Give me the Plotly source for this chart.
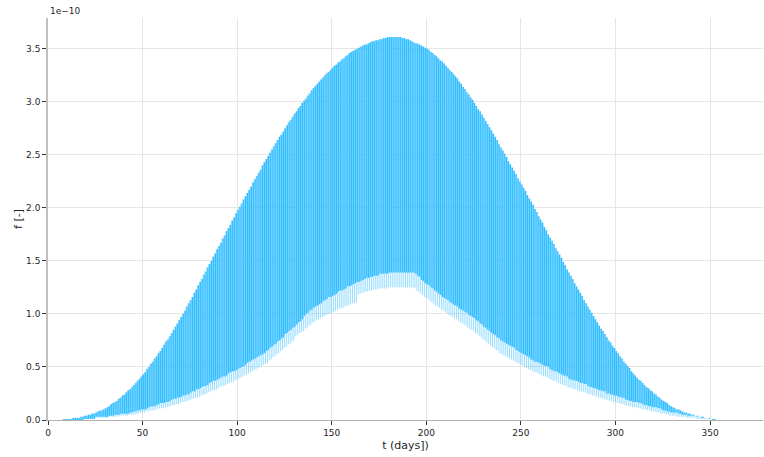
import plotly.graph_objects as go

# Daily readings of the signal, in units of 1e-10, for days 0..360.
day = list(range(0, 361))

# daily maximum
f_max = [
    0.00, 0.00, 0.00, 0.00, 0.00, 0.00, 0.00, 0.00, 0.01, 0.01,
    0.01, 0.01, 0.01, 0.02, 0.02, 0.02, 0.02, 0.03, 0.03, 0.04,
    0.04, 0.05, 0.05, 0.06, 0.06, 0.07, 0.08, 0.09, 0.09, 0.10,
    0.11, 0.12, 0.13, 0.15, 0.16, 0.17, 0.18, 0.20, 0.21, 0.23,
    0.24, 0.26, 0.28, 0.29, 0.31, 0.33, 0.35, 0.37, 0.39, 0.41,
    0.43, 0.45, 0.48, 0.50, 0.53, 0.55, 0.58, 0.60, 0.63, 0.65,
    0.68, 0.71, 0.74, 0.76, 0.79, 0.82, 0.85, 0.88, 0.91, 0.94,
    0.97, 1.00, 1.03, 1.07, 1.10, 1.13, 1.16, 1.20, 1.23, 1.27,
    1.30, 1.33, 1.37, 1.40, 1.44, 1.47, 1.50, 1.54, 1.57, 1.61,
    1.64, 1.67, 1.71, 1.74, 1.78, 1.81, 1.84, 1.88, 1.91, 1.95,
    1.98, 2.01, 2.04, 2.08, 2.11, 2.14, 2.17, 2.20, 2.24, 2.27,
    2.30, 2.33, 2.36, 2.40, 2.43, 2.46, 2.49, 2.52, 2.55, 2.58,
    2.61, 2.64, 2.67, 2.69, 2.72, 2.75, 2.78, 2.81, 2.83, 2.86,
    2.89, 2.91, 2.94, 2.96, 2.99, 3.01, 3.03, 3.06, 3.08, 3.11,
    3.13, 3.15, 3.17, 3.19, 3.21, 3.23, 3.25, 3.27, 3.28, 3.30,
    3.32, 3.34, 3.35, 3.37, 3.38, 3.40, 3.41, 3.43, 3.44, 3.46,
    3.47, 3.48, 3.49, 3.50, 3.51, 3.52, 3.53, 3.54, 3.54, 3.55,
    3.56, 3.57, 3.57, 3.58, 3.58, 3.59, 3.59, 3.60, 3.60, 3.61,
    3.61, 3.61, 3.61, 3.61, 3.61, 3.61, 3.61, 3.60, 3.60, 3.59,
    3.59, 3.58, 3.57, 3.56, 3.55, 3.55, 3.54, 3.53, 3.52, 3.51,
    3.50, 3.49, 3.47, 3.46, 3.44, 3.43, 3.41, 3.39, 3.38, 3.36,
    3.34, 3.32, 3.30, 3.28, 3.26, 3.24, 3.22, 3.19, 3.17, 3.14,
    3.12, 3.09, 3.07, 3.04, 3.02, 2.99, 2.96, 2.93, 2.91, 2.88,
    2.85, 2.82, 2.79, 2.76, 2.73, 2.70, 2.67, 2.64, 2.60, 2.57,
    2.54, 2.51, 2.48, 2.44, 2.41, 2.38, 2.35, 2.32, 2.28, 2.25,
    2.22, 2.19, 2.16, 2.12, 2.09, 2.06, 2.03, 1.99, 1.96, 1.92,
    1.89, 1.86, 1.82, 1.79, 1.75, 1.72, 1.69, 1.66, 1.62, 1.59,
    1.56, 1.53, 1.49, 1.46, 1.42, 1.39, 1.36, 1.33, 1.29, 1.26,
    1.23, 1.20, 1.17, 1.13, 1.10, 1.07, 1.04, 1.01, 0.98, 0.95,
    0.92, 0.89, 0.86, 0.84, 0.81, 0.78, 0.75, 0.73, 0.70, 0.68,
    0.65, 0.63, 0.60, 0.58, 0.55, 0.53, 0.51, 0.49, 0.46, 0.44,
    0.42, 0.40, 0.38, 0.37, 0.35, 0.33, 0.31, 0.30, 0.28, 0.27,
    0.25, 0.24, 0.22, 0.21, 0.19, 0.18, 0.17, 0.16, 0.14, 0.13,
    0.12, 0.11, 0.10, 0.10, 0.09, 0.08, 0.07, 0.07, 0.06, 0.06,
    0.05, 0.05, 0.04, 0.04, 0.03, 0.03, 0.03, 0.02, 0.02, 0.01,
    0.01, 0.01, 0.01, 0.00, 0.00, 0.00, 0.00, 0.00, 0.00, 0.00,
    0.00,
]

# usual daily minimum (lower edge of the dense band)
f_base = [
    0.00, 0.00, 0.00, 0.00, 0.00, 0.00, 0.00, 0.00, 0.00, 0.00,
    0.00, 0.00, 0.00, 0.00, 0.00, 0.00, 0.00, 0.00, 0.00, 0.01,
    0.01, 0.01, 0.01, 0.01, 0.01, 0.03, 0.03, 0.03, 0.03, 0.03,
    0.03, 0.03, 0.04, 0.04, 0.04, 0.05, 0.05, 0.05, 0.06, 0.06,
    0.06, 0.06, 0.06, 0.07, 0.07, 0.08, 0.08, 0.09, 0.09, 0.10,
    0.10, 0.10, 0.11, 0.12, 0.13, 0.13, 0.13, 0.14, 0.15, 0.16,
    0.16, 0.16, 0.17, 0.17, 0.18, 0.19, 0.20, 0.20, 0.21, 0.21,
    0.22, 0.23, 0.23, 0.24, 0.24, 0.26, 0.27, 0.27, 0.29, 0.29,
    0.30, 0.31, 0.32, 0.32, 0.33, 0.35, 0.36, 0.37, 0.37, 0.38,
    0.39, 0.40, 0.41, 0.41, 0.42, 0.44, 0.45, 0.46, 0.46, 0.47,
    0.48, 0.49, 0.50, 0.51, 0.52, 0.54, 0.55, 0.56, 0.57, 0.58,
    0.59, 0.60, 0.61, 0.62, 0.63, 0.65, 0.66, 0.68, 0.69, 0.71,
    0.72, 0.74, 0.75, 0.77, 0.78, 0.81, 0.82, 0.84, 0.85, 0.87,
    0.88, 0.90, 0.92, 0.93, 0.95, 0.98, 1.00, 1.01, 1.03, 1.04,
    1.06, 1.07, 1.08, 1.09, 1.10, 1.12, 1.13, 1.14, 1.16, 1.16,
    1.17, 1.18, 1.19, 1.21, 1.22, 1.22, 1.23, 1.24, 1.26, 1.26,
    1.27, 1.28, 1.29, 1.30, 1.30, 1.31, 1.32, 1.33, 1.34, 1.34,
    1.35, 1.35, 1.36, 1.36, 1.36, 1.38, 1.38, 1.38, 1.38, 1.38,
    1.39, 1.39, 1.39, 1.39, 1.39, 1.39, 1.39, 1.39, 1.39, 1.39,
    1.39, 1.39, 1.39, 1.39, 1.38, 1.36, 1.35, 1.32, 1.31, 1.29,
    1.28, 1.27, 1.25, 1.24, 1.22, 1.21, 1.19, 1.18, 1.16, 1.15,
    1.14, 1.13, 1.11, 1.10, 1.09, 1.08, 1.07, 1.05, 1.04, 1.03,
    1.02, 1.01, 0.99, 0.98, 0.97, 0.96, 0.94, 0.93, 0.91, 0.90,
    0.88, 0.87, 0.85, 0.84, 0.82, 0.81, 0.80, 0.78, 0.77, 0.75,
    0.74, 0.73, 0.72, 0.71, 0.70, 0.69, 0.68, 0.66, 0.65, 0.64,
    0.63, 0.62, 0.61, 0.60, 0.59, 0.57, 0.56, 0.55, 0.55, 0.54,
    0.53, 0.52, 0.51, 0.51, 0.50, 0.48, 0.47, 0.46, 0.46, 0.45,
    0.44, 0.43, 0.42, 0.42, 0.41, 0.39, 0.38, 0.38, 0.37, 0.37,
    0.36, 0.35, 0.35, 0.34, 0.34, 0.32, 0.31, 0.31, 0.30, 0.30,
    0.29, 0.28, 0.28, 0.27, 0.27, 0.25, 0.25, 0.24, 0.24, 0.23,
    0.23, 0.22, 0.22, 0.21, 0.21, 0.19, 0.19, 0.18, 0.18, 0.17,
    0.17, 0.17, 0.16, 0.16, 0.15, 0.14, 0.14, 0.13, 0.13, 0.12,
    0.12, 0.12, 0.11, 0.11, 0.10, 0.09, 0.09, 0.08, 0.08, 0.07,
    0.07, 0.07, 0.07, 0.06, 0.06, 0.05, 0.05, 0.05, 0.04, 0.04,
    0.04, 0.04, 0.04, 0.03, 0.03, 0.02, 0.02, 0.02, 0.02, 0.02,
    0.01, 0.00, 0.00, 0.00, 0.00, 0.00, 0.00, 0.00, 0.00, 0.00,
    0.00,
]

# deepest daily minimum
f_min = [
    0.00, 0.00, 0.00, 0.00, 0.00, 0.00, 0.00, 0.00, 0.00, 0.00,
    0.00, 0.00, 0.00, 0.00, 0.00, 0.00, 0.00, 0.00, 0.00, 0.01,
    0.01, 0.01, 0.01, 0.01, 0.01, 0.02, 0.02, 0.02, 0.02, 0.02,
    0.02, 0.02, 0.03, 0.03, 0.03, 0.03, 0.03, 0.03, 0.04, 0.04,
    0.04, 0.04, 0.04, 0.05, 0.05, 0.05, 0.05, 0.06, 0.06, 0.07,
    0.07, 0.07, 0.08, 0.08, 0.09, 0.09, 0.09, 0.10, 0.10, 0.11,
    0.11, 0.11, 0.12, 0.12, 0.13, 0.13, 0.14, 0.14, 0.15, 0.15,
    0.16, 0.17, 0.17, 0.18, 0.18, 0.19, 0.20, 0.20, 0.21, 0.21,
    0.22, 0.23, 0.24, 0.24, 0.25, 0.26, 0.27, 0.28, 0.28, 0.29,
    0.30, 0.31, 0.32, 0.32, 0.33, 0.34, 0.35, 0.36, 0.36, 0.37,
    0.38, 0.39, 0.40, 0.41, 0.42, 0.43, 0.44, 0.45, 0.46, 0.47,
    0.48, 0.49, 0.50, 0.51, 0.52, 0.53, 0.54, 0.56, 0.57, 0.59,
    0.60, 0.62, 0.63, 0.65, 0.66, 0.68, 0.69, 0.71, 0.72, 0.74,
    0.75, 0.79, 0.80, 0.82, 0.83, 0.84, 0.86, 0.87, 0.89, 0.90,
    0.92, 0.93, 0.94, 0.95, 0.96, 0.97, 0.98, 0.99, 1.00, 1.00,
    1.01, 1.02, 1.03, 1.04, 1.05, 1.05, 1.06, 1.07, 1.08, 1.08,
    1.09, 1.10, 1.10, 1.11, 1.18, 1.19, 1.20, 1.20, 1.21, 1.21,
    1.22, 1.22, 1.23, 1.23, 1.23, 1.24, 1.24, 1.24, 1.24, 1.24,
    1.25, 1.25, 1.25, 1.25, 1.25, 1.25, 1.25, 1.25, 1.25, 1.25,
    1.25, 1.25, 1.25, 1.25, 1.24, 1.22, 1.21, 1.19, 1.18, 1.16,
    1.15, 1.14, 1.12, 1.11, 1.09, 1.08, 1.07, 1.06, 1.04, 1.03,
    1.02, 1.01, 0.99, 0.98, 0.97, 0.96, 0.95, 0.93, 0.92, 0.91,
    0.90, 0.89, 0.87, 0.86, 0.85, 0.84, 0.82, 0.81, 0.79, 0.78,
    0.76, 0.75, 0.73, 0.72, 0.70, 0.69, 0.68, 0.66, 0.65, 0.63,
    0.62, 0.61, 0.60, 0.59, 0.58, 0.57, 0.56, 0.55, 0.54, 0.53,
    0.52, 0.51, 0.50, 0.49, 0.48, 0.47, 0.46, 0.45, 0.45, 0.44,
    0.43, 0.42, 0.41, 0.41, 0.40, 0.39, 0.38, 0.37, 0.37, 0.36,
    0.35, 0.34, 0.33, 0.33, 0.32, 0.31, 0.30, 0.30, 0.29, 0.29,
    0.28, 0.27, 0.27, 0.26, 0.26, 0.25, 0.24, 0.24, 0.23, 0.23,
    0.22, 0.21, 0.21, 0.20, 0.20, 0.19, 0.19, 0.18, 0.18, 0.17,
    0.17, 0.16, 0.16, 0.15, 0.15, 0.14, 0.14, 0.13, 0.13, 0.12,
    0.12, 0.12, 0.11, 0.11, 0.10, 0.10, 0.10, 0.09, 0.09, 0.08,
    0.08, 0.08, 0.07, 0.07, 0.06, 0.06, 0.06, 0.05, 0.05, 0.04,
    0.04, 0.04, 0.04, 0.03, 0.03, 0.03, 0.03, 0.03, 0.02, 0.02,
    0.02, 0.02, 0.02, 0.01, 0.01, 0.01, 0.01, 0.01, 0.01, 0.01,
    0.01, 0.00, 0.00, 0.00, 0.00, 0.00, 0.00, 0.00, 0.00, 0.00,
    0.00,
]

x_ticks = [0, 50, 100, 150, 200, 250, 300, 350]
y_ticks = [0.0, 0.5, 1.0, 1.5, 2.0, 2.5, 3.0, 3.5]

BLUE = "rgb(51,190,255)"
BLUE_FAINT = "rgba(51,190,255,0.5)"


def strokes(xs, lo, hi, shift=0.0):
    """One vertical segment per day, separated by gaps."""
    px, py = [], []
    for d, a, b in zip(xs, lo, hi):
        px += [d + shift, d + shift, None]
        py += [a, b, None]
    return px, py


fig = go.Figure()

# full daily swing (faint strokes reaching the deepest minimum)
sx, sy = strokes(day, f_min, f_max)
fig.add_trace(go.Scatter(x=sx, y=sy, mode="lines", line=dict(width=1, color=BLUE_FAINT),
                         hoverinfo="skip", showlegend=False))

# usual daily swing (dense strokes)
sx, sy = strokes(day, f_base, f_max, shift=0.5)
fig.add_trace(go.Scatter(x=sx, y=sy, mode="lines", line=dict(width=1.4, color=BLUE),
                         hoverinfo="skip", showlegend=False))

font = dict(family="DejaVu Sans", size=9, color="#262626")
fig.update_layout(
    width=764, height=457, margin=dict(l=48, r=1, t=18, b=37),
    plot_bgcolor="white", paper_bgcolor="white", font=font,
    xaxis=dict(range=[0, 378], tickvals=x_ticks,
               showgrid=True, gridcolor="#e6e6e6", gridwidth=1, zeroline=False,
               showline=True, linecolor="#b0b0b0", linewidth=1,
               ticks="outside", ticklen=4, tickcolor="#333333",
               title=dict(text="t (days])", standoff=4)),
    yaxis=dict(range=[0, 3.79], tickvals=y_ticks, tickformat=".1f",
               showgrid=True, gridcolor="#e6e6e6", gridwidth=1, zeroline=False,
               showline=True, linecolor="#c0c0c0", linewidth=1.5,
               ticks="outside", ticklen=4, tickcolor="#333333",
               title=dict(text="f [-]", standoff=1)),
)
fig.add_annotation(text="1e\u221210", xref="paper", yref="paper", x=0, y=1, xanchor="left",
                   yanchor="bottom", showarrow=False, font=font)
fig.write_html("out.html")
